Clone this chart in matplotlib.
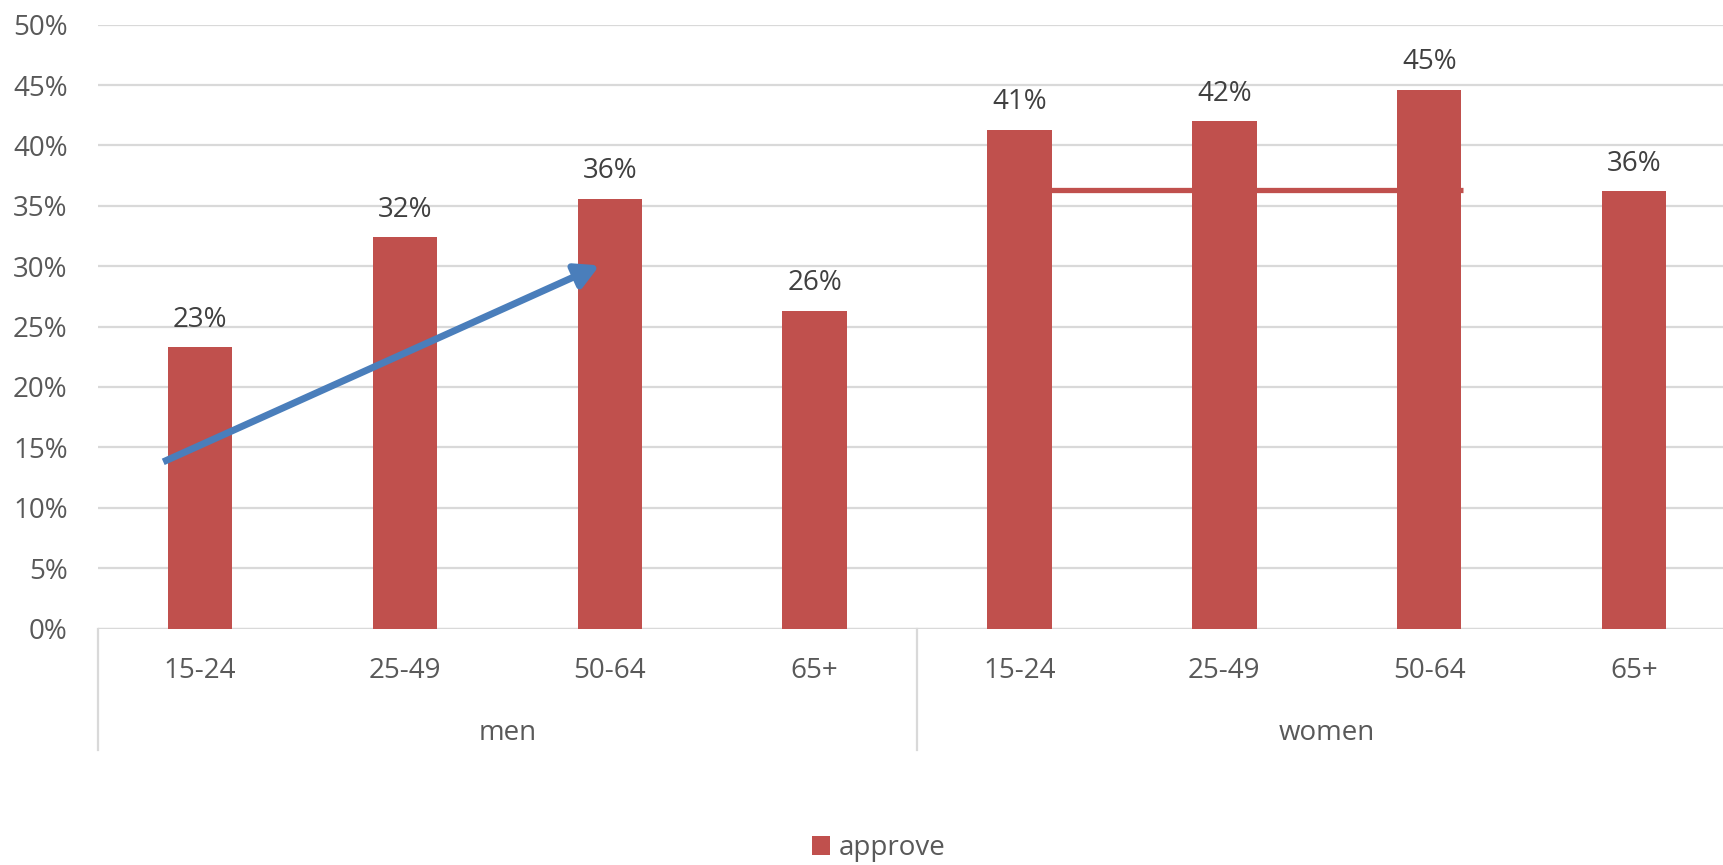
import matplotlib
matplotlib.use("Agg")
import matplotlib.pyplot as plt
import matplotlib.transforms as mtransforms
from matplotlib.ticker import PercentFormatter

# ---- data ----
groups = ["men", "women"]
age_labels = ["15-24", "25-49", "50-64", "65+"]
men_values = [0.233, 0.324, 0.356, 0.263]
women_values = [0.413, 0.420, 0.446, 0.362]
value_labels = ["23%", "32%", "36%", "26%", "41%", "42%", "45%", "36%"]
series_name = "approve"

# annotation shapes (data coordinates)
arrow_start = (-0.18, 0.138)
arrow_end = (1.95, 0.3007)
hline_y = 0.3635
hline_x = (3.88, 6.165)

# ---- styling ----
BAR = "#C0504D"
BLUE = "#4A7EBB"
GRID = "#D9D9D9"
TXT = "#595959"
DTXT = "#404040"
FONT = ["Open Sans", "DejaVu Sans"]
FS = 20

plt.rcParams["font.family"] = FONT

W, H = 1723, 865
PX = 72 / 100  # points per pixel at dpi 100
fig = plt.figure(figsize=(W / 100, H / 100), dpi=100)
left_px, right_px = 97.7, 97.7 + 8 * 204.85
zero_px, top_px = 628.5, 24.7
ax = fig.add_axes([left_px / W, 1 - zero_px / H,
                   (right_px - left_px) / W, (zero_px - top_px) / H])

values = men_values + women_values
cats = [a for g in groups for a in age_labels]
x = list(range(len(values)))

bars = ax.bar(x, values, width=0.315, color=BAR, label=series_name, zorder=2)

ax.set_xlim(-0.5, len(values) - 0.5)
ax.set_ylim(0, 0.5)
ax.set_yticks([i * 0.05 for i in range(11)])
ax.yaxis.set_major_formatter(PercentFormatter(1.0, decimals=0))
ax.grid(axis="y", color=GRID, linewidth=1.6, zorder=0)
ax.set_axisbelow(True)
for s in ax.spines.values():
    s.set_visible(False)
ax.tick_params(axis="y", length=0, pad=30 * PX, labelsize=FS, labelcolor=TXT)
ax.set_xticks(x)
ax.set_xticklabels([])
ax.tick_params(axis="x", length=0)

# bottom axis line
ax.axhline(0, color=GRID, linewidth=1.6, zorder=1)

trans = mtransforms.blended_transform_factory(ax.transData, ax.transAxes)
span = zero_px - top_px


def yfrac(py):
    return -(py - zero_px) / span


# category labels
for xi, c in zip(x, cats):
    ax.text(xi, yfrac(678), c, transform=trans, ha="center", va="baseline",
            fontsize=FS, color=TXT)

# group separators and labels
for gi in range(len(groups) + 1):
    xs = gi * len(age_labels) - 0.5
    ax.plot([xs, xs], [0, yfrac(750)], transform=trans, color=GRID,
            linewidth=1.6, clip_on=False)
for gi, g in enumerate(groups):
    xc = gi * len(age_labels) + (len(age_labels) - 1) / 2
    ax.text(xc, yfrac(740), g, transform=trans, ha="center", va="baseline",
            fontsize=FS, color=TXT)

# data labels
for b, lab in zip(bars, value_labels):
    ax.annotate(lab, (b.get_x() + b.get_width() / 2, b.get_height()),
                xytext=(0, 20.5 * PX), textcoords="offset points",
                ha="center", va="baseline", fontsize=FS, color=DTXT)

# annotations: blue arrow, red line
ax.annotate("", xy=arrow_end, xytext=arrow_start,
            arrowprops=dict(arrowstyle="-|>,head_length=0.7,head_width=0.38",
                            mutation_scale=20, lw=5, color=BLUE,
                            shrinkA=0, shrinkB=0, capstyle="butt"),
            zorder=4)
ax.plot(list(hline_x), [hline_y, hline_y], color=BAR, linewidth=3.8,
        solid_capstyle="butt", zorder=3)

# legend
leg = fig.legend(handles=[bars], labels=[series_name], loc="center left",
                 bbox_to_anchor=(812 / W, 1 - 848 / H), frameon=False,
                 borderaxespad=0, borderpad=0, handlelength=0.65,
                 handleheight=0.65, handletextpad=0.3, fontsize=FS)
for t in leg.get_texts():
    t.set_color(TXT)

fig.savefig("out.png", dpi=100)
